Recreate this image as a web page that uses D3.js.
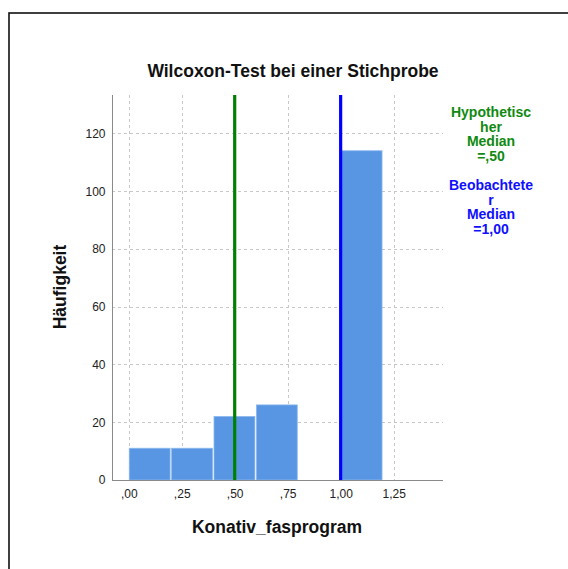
<!DOCTYPE html>
<html>
<head>
<meta charset="utf-8">
<script src="https://cdn.jsdelivr.net/npm/d3@7"></script>
<style>
  html, body { margin: 0; padding: 0; background: #fff; }
  svg { display: block; }
  text { font-family: "Liberation Sans", Arial, Helvetica, sans-serif; }
</style>
</head>
<body>
<svg id="chart" width="568" height="569"></svg>
<script>
// ---- data ----
const binStarts = [0.0, 0.2, 0.4, 0.6, 1.0];
const binEnds   = [0.2, 0.4, 0.6, 0.8, 1.2];
const counts    = [11, 11, 22, 26, 114];
const xTicks = [0, 0.25, 0.5, 0.75, 1.0, 1.25];
const xTickLabels = [",00", ",25", ",50", ",75", "1,00", "1,25"];
const yTicks = [0, 20, 40, 60, 80, 100, 120];
const hypMedian = 0.5;
const obsMedian = 1.0;
const hypLabel = ["Hypothetisc", "her", "Median", "=,50"];
const obsLabel = ["Beobachtete", "r", "Median", "=1,00"];
const title = "Wilcoxon-Test bei einer Stichprobe";
const xTitle = "Konativ_fasprogram";
const yTitle = "Häufigkeit";

const svg = d3.select("#chart");

// outer frame
svg.append("rect").attr("x", 9).attr("y", 13).attr("width", 700).attr("height", 700)
  .attr("fill", "none").attr("stroke", "#111").attr("stroke-width", 1.6);

const plot = { left: 112, right: 443, top: 95, bottom: 480 };
const x = d3.scaleLinear().domain([-0.079, 1.483]).range([plot.left, plot.right]);
const y = d3.scaleLinear().domain([0, 133.3]).range([plot.bottom, plot.top]);

// grid lines
const grid = svg.append("g");
grid.selectAll("line.h").data(yTicks.filter(d => d > 0)).join("line")
  .attr("x1", plot.left).attr("x2", plot.right)
  .attr("y1", d => Math.round(y(d)) + 0.5).attr("y2", d => Math.round(y(d)) + 0.5)
  .attr("stroke", "#c8c8c8").attr("stroke-dasharray", "3,3");
grid.selectAll("line.v").data(xTicks).join("line")
  .attr("x1", d => Math.round(x(d)) + 0.5).attr("x2", d => Math.round(x(d)) + 0.5)
  .attr("y1", plot.top).attr("y2", plot.bottom)
  .attr("stroke", "#c8c8c8").attr("stroke-dasharray", "3,3");

// bars
svg.append("g").selectAll("rect").data(counts).join("rect")
  .attr("x", (d, i) => x(binStarts[i]) + 0.5)
  .attr("width", (d, i) => x(binEnds[i]) - x(binStarts[i]) - 1.5)
  .attr("y", d => y(d))
  .attr("height", d => plot.bottom - y(d))
  .attr("fill", "#5896e3")
  .attr("stroke", "#8db8ee").attr("stroke-width", 0.8);

// axes
const yAxis = d3.axisLeft(y).tickValues(yTicks).tickSize(0).tickPadding(7).tickFormat(d3.format("d"));
const gy = svg.append("g").attr("transform", `translate(${plot.left + 0.5},0)`).call(yAxis);
gy.select(".domain").attr("stroke", "#8a8a8a").attr("d", `M0,${plot.top}V${plot.bottom}`);
gy.selectAll("text").attr("font-size", 12).attr("fill", "#222");

const xAxis = d3.axisBottom(x).tickValues(xTicks).tickSize(0).tickPadding(9)
  .tickFormat((d, i) => xTickLabels[i]);
const gx = svg.append("g").attr("transform", `translate(0,${plot.bottom + 0.5})`).call(xAxis);
gx.select(".domain").attr("stroke", "#8a8a8a").attr("d", `M${plot.left},0H${plot.right}`);
gx.selectAll("text").attr("font-size", 12).attr("fill", "#222");

// median lines
svg.append("line").attr("x1", x(hypMedian)).attr("x2", x(hypMedian))
  .attr("y1", plot.top).attr("y2", plot.bottom)
  .attr("stroke", "#007f00").attr("stroke-width", 3.2);
svg.append("line").attr("x1", x(obsMedian)).attr("x2", x(obsMedian))
  .attr("y1", plot.top).attr("y2", plot.bottom)
  .attr("stroke", "#0000ff").attr("stroke-width", 3.2);

// titles
svg.append("text").attr("x", 293).attr("y", 77).attr("text-anchor", "middle")
  .attr("font-size", 17.5).attr("font-weight", "bold").attr("fill", "#111").text(title);
svg.append("text").attr("x", 277).attr("y", 533).attr("text-anchor", "middle")
  .attr("font-size", 17.5).attr("font-weight", "bold").attr("fill", "#111").text(xTitle);
svg.append("text").attr("transform", "translate(66,287) rotate(-90)").attr("text-anchor", "middle")
  .attr("font-size", 17.5).attr("font-weight", "bold").attr("fill", "#111").text(yTitle);

// legend labels
const lg = svg.append("g").attr("font-size", 14).attr("font-weight", "bold").attr("text-anchor", "middle");
lg.selectAll("text.h").data(hypLabel).join("text")
  .attr("x", 491).attr("y", (d, i) => 117 + i * 14.7).attr("fill", "#108a10").text(d => d);
lg.selectAll("text.o").data(obsLabel).join("text")
  .attr("x", 491).attr("y", (d, i) => 190 + i * 14.7).attr("fill", "#1010ff").text(d => d);
</script>
</body>
</html>
